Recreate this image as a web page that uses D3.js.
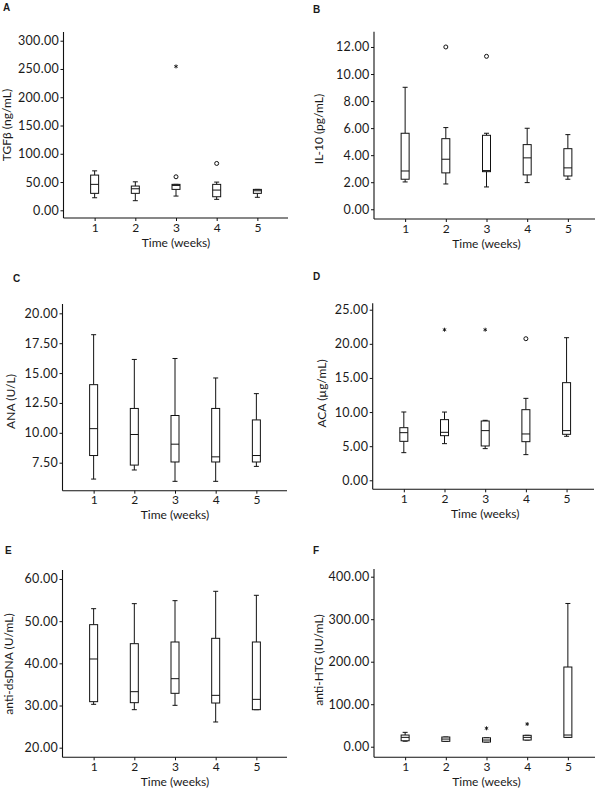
<!DOCTYPE html>
<html><head><meta charset="utf-8">
<script src="https://cdn.jsdelivr.net/npm/d3@7"></script>
<style>
body{margin:0;background:#fff}
text{font-family:Lato, "Open Sans", sans-serif; fill:#1a1a1a}
</style>
</head><body>
<svg id="chart" width="600" height="790"></svg>
<script>
// ---------- DATA ----------
const weeks = [1, 2, 3, 4, 5];
const xTitle = "Time (weeks)";
// each box: [lower whisker, Q1, median, Q3, upper whisker]
const tgfBoxes = [[22.2, 30, 45.9, 62.3, 69.8], [17, 30, 38.1, 42.9, 50.4], [25.2, 37, 44, 45.9, 45.9], [19.4, 24, 35.8, 45.9, 49.9], [23, 30, 34.6, 37, 37]];
const tgfOutliers = [{week: 3, value: 59.3, kind: "circle"}, {week: 3, value: 254.5, kind: "star"}, {week: 4, value: 82.9, kind: "circle"}];
const tgfTicks = [0, 50, 100, 150, 200, 250, 300];

const il10Boxes = [[2.02, 2.22, 2.83, 5.62, 9.02], [1.87, 2.69, 3.70, 5.22, 6.04], [1.65, 2.78, 2.86, 5.47, 5.62], [1.97, 2.54, 3.80, 4.78, 5.99], [2.22, 2.46, 3.06, 4.48, 5.52]];
const il10Outliers = [{week: 2, value: 12.0, kind: "circle"}, {week: 3, value: 11.31, kind: "circle"}];
const il10Ticks = [0, 2, 4, 6, 8, 10, 12];

const anaBoxes = [[6.13, 8.10, 10.35, 14.03, 18.21], [6.89, 7.30, 9.86, 12.04, 16.14], [5.94, 7.56, 9.05, 11.45, 16.22], [5.94, 7.56, 7.99, 12.04, 14.59], [7.19, 7.56, 8.10, 11.08, 13.28]];
const anaOutliers = [];
const anaTicks = [7.5, 10, 12.5, 15, 17.5, 20];

const acaBoxes = [[4.05, 5.71, 6.98, 7.71, 10.01], [5.37, 6.54, 7.03, 8.89, 10.0], [4.64, 5.03, 7.28, 8.69, 8.79], [3.76, 5.66, 6.79, 10.35, 12.01], [6.45, 6.74, 7.28, 14.31, 20.9]];
const acaOutliers = [{week: 2, value: 22.07, kind: "star"}, {week: 3, value: 22.07, kind: "star"}, {week: 4, value: 20.75, kind: "circle"}];
const acaTicks = [0, 5, 10, 15, 20, 25];

const dsdnaBoxes = [[30.28, 30.91, 41.03, 49.17, 52.96], [29.01, 30.67, 33.28, 44.66, 54.15], [30.04, 32.89, 36.36, 45.06, 54.86], [26.09, 30.59, 32.41, 45.93, 57.08], [29.01, 29.01, 31.46, 45.06, 56.13]];
const dsdnaOutliers = [];
const dsdnaTicks = [20, 30, 40, 50, 60];

const htgBoxes = [[13, 14, 22, 27.5, 33.8], [12.7, 12.7, 18, 22.8, 22.8], [11, 11, 15.7, 21, 21], [15.7, 15.7, 22, 26.8, 26.8], [22, 22, 27.5, 187.5, 337]];
const htgOutliers = [{week: 3, value: 43.3, kind: "star"}, {week: 4, value: 53.4, kind: "star"}];
const htgTicks = [0, 100, 200, 300, 400];

// ---------- LAYOUT ----------
const panels = [
  {letter: "A", title: "TGF\u03b2 (ng/mL)", boxes: tgfBoxes, outliers: tgfOutliers, ticks: tgfTicks, domain: [-13.6, 315.4],
   left: 63.5, top: 32, bottom: 218, right: 288, letterX: 3, letterY: 10.7, titleX: 10.8, titleY: 125},
  {letter: "B", title: "IL-10 (pg/mL)", boxes: il10Boxes, outliers: il10Outliers, ticks: il10Ticks, domain: [-0.72, 13.13],
   left: 374, top: 31.7, bottom: 219, right: 595, letterX: 313, letterY: 13, titleX: 322.6, titleY: 129},
  {letter: "C", title: "ANA (U/L)", boxes: anaBoxes, outliers: anaOutliers, ticks: anaTicks, domain: [5.157, 20.78],
   left: 62.5, top: 304, bottom: 490.7, right: 287, letterX: 13, letterY: 282, titleX: 14.6, titleY: 401.5},
  {letter: "D", title: "ACA (\u00b5g/mL)", boxes: acaBoxes, outliers: acaOutliers, ticks: acaTicks, domain: [-1.32, 25.94],
   left: 372.7, top: 303.3, bottom: 489.3, right: 594, letterX: 313, letterY: 280, titleX: 325.6, titleY: 393.5},
  {letter: "E", title: "anti-dsDNA (U/mL)", boxes: dsdnaBoxes, outliers: dsdnaOutliers, ticks: dsdnaTicks, domain: [17.72, 62.13],
   left: 62.5, top: 570, bottom: 757.3, right: 287, letterX: 5, letterY: 554, titleX: 12.6, titleY: 664},
  {letter: "F", title: "anti-HTG (IU/mL)", boxes: htgBoxes, outliers: htgOutliers, ticks: htgTicks, domain: [-24.9, 418.1],
   left: 374, top: 569, bottom: 757.3, right: 595, letterX: 313, letterY: 554, titleX: 322.6, titleY: 660}
];

const svg = d3.select("#chart");
const ink = "#111";
const boxW = 8, capW = 5;

panels.forEach(p => {
  const g = svg.append("g");
  const x = d3.scalePoint().domain(weeks).range([p.left, p.left + 225]).padding(0.765);
  const y = d3.scaleLinear().domain(p.domain).range([p.bottom, p.top]);

  // panel letter
  g.append("text").attr("x", p.letterX).attr("y", p.letterY)
    .style("font-family", "'Liberation Sans', Arial, sans-serif")
    .style("font-weight", "bold").style("font-size", "10px").text(p.letter);

  // y axis
  const ya = g.append("g").attr("transform", `translate(${p.left},0)`)
    .call(d3.axisLeft(y).tickValues(p.ticks).tickFormat(d3.format(".2f")).tickSize(3).tickPadding(1.5).tickSizeOuter(0));
  ya.select(".domain").remove();
  ya.selectAll("line").attr("stroke", ink);
  ya.selectAll("text").style("font-size", "12.5px").style("letter-spacing", "0.3px").attr("fill", "#1a1a1a");
  g.append("line").attr("x1", p.left).attr("x2", p.left).attr("y1", p.top).attr("y2", p.bottom)
    .attr("stroke", ink).attr("stroke-width", 1.1);

  // x axis
  const xa = g.append("g").attr("transform", `translate(0,${p.bottom})`)
    .call(d3.axisBottom(x).tickSize(3).tickPadding(2).tickSizeOuter(0));
  xa.select(".domain").remove();
  xa.selectAll("line").attr("stroke", ink);
  xa.selectAll("text").style("font-size", "12px").attr("fill", "#1a1a1a");
  g.append("line").attr("x1", p.left).attr("x2", p.right).attr("y1", p.bottom).attr("y2", p.bottom)
    .attr("stroke", ink).attr("stroke-width", 1.1);

  // axis titles
  g.append("text").attr("x", x(3)).attr("y", p.bottom + 28.5).attr("text-anchor", "middle")
    .style("font-size", "12px").text(xTitle);
  g.append("text").attr("transform", `translate(${p.titleX},${p.titleY}) rotate(-90)`)
    .attr("text-anchor", "middle").style("font-size", "12px").text(p.title);

  // boxes
  const bx = g.selectAll("g.box").data(p.boxes).join("g").attr("class", "box")
    .attr("stroke", ink).attr("stroke-width", 1).attr("fill", "none");
  bx.append("line").attr("x1", (d, i) => x(weeks[i])).attr("x2", (d, i) => x(weeks[i]))
    .attr("y1", d => y(d[0])).attr("y2", d => y(d[1]));
  bx.append("line").attr("x1", (d, i) => x(weeks[i])).attr("x2", (d, i) => x(weeks[i]))
    .attr("y1", d => y(d[3])).attr("y2", d => y(d[4]));
  bx.append("line").attr("x1", (d, i) => x(weeks[i]) - capW / 2).attr("x2", (d, i) => x(weeks[i]) + capW / 2)
    .attr("y1", d => y(d[0])).attr("y2", d => y(d[0]));
  bx.append("line").attr("x1", (d, i) => x(weeks[i]) - capW / 2).attr("x2", (d, i) => x(weeks[i]) + capW / 2)
    .attr("y1", d => y(d[4])).attr("y2", d => y(d[4]));
  bx.append("rect").attr("x", (d, i) => x(weeks[i]) - boxW / 2).attr("width", boxW)
    .attr("y", d => y(d[3])).attr("height", d => Math.max(0.5, y(d[1]) - y(d[3])))
    .attr("fill", "#fff");
  bx.append("line").attr("x1", (d, i) => x(weeks[i]) - boxW / 2).attr("x2", (d, i) => x(weeks[i]) + boxW / 2)
    .attr("y1", d => y(d[2])).attr("y2", d => y(d[2]));

  // outliers
  p.outliers.forEach(o => {
    const cx = x(o.week), cy = y(o.value);
    if (o.kind === "circle") {
      g.append("circle").attr("cx", cx).attr("cy", cy).attr("r", 2)
        .attr("fill", "none").attr("stroke", ink).attr("stroke-width", 1);
    } else {
      const r = 2;
      [0, 60, 120].forEach(a => {
        const rad = a * Math.PI / 180;
        g.append("line").attr("x1", cx - r * Math.sin(rad)).attr("x2", cx + r * Math.sin(rad))
          .attr("y1", cy - r * Math.cos(rad)).attr("y2", cy + r * Math.cos(rad))
          .attr("stroke", ink).attr("stroke-width", 0.9);
      });
    }
  });
});
</script>
</body></html>
